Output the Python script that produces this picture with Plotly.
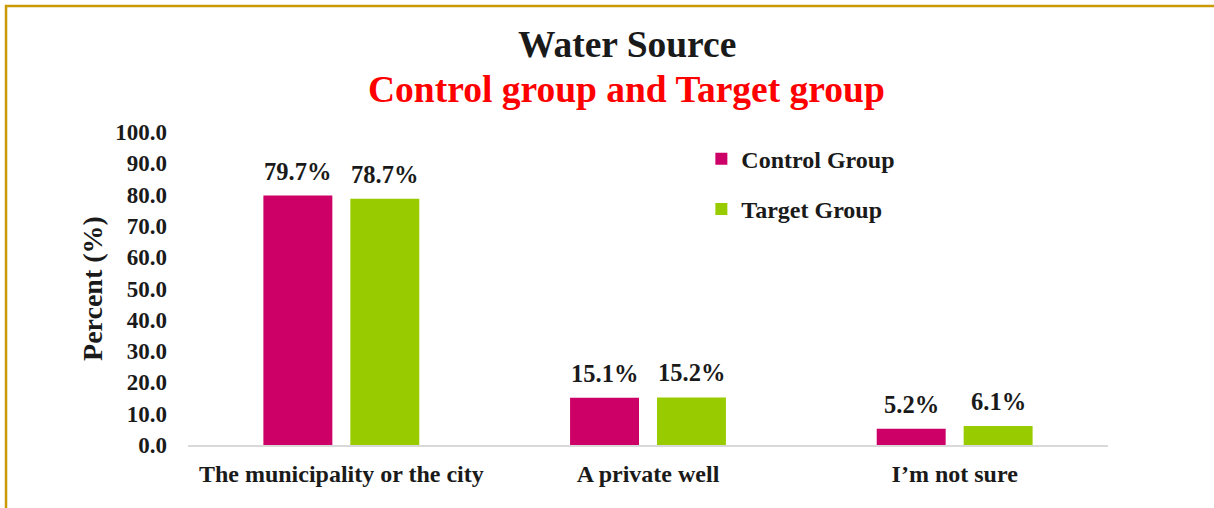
import plotly.graph_objects as go

categories = ["The municipality or the city", "A private well", "I’m not sure"]
control_values = [79.7, 15.1, 5.2]
target_values = [78.7, 15.2, 6.1]
series_names = ["Control Group", "Target Group"]
y_ticks = [0, 10, 20, 30, 40, 50, 60, 70, 80, 90, 100]

FONT = "Liberation Serif"
colors = ["#CC0066", "#99CC00"]
TXT = "#1a1a1a"

fig = go.Figure()
for name, vals, col in zip(series_names, [control_values, target_values], colors):
    fig.add_trace(go.Bar(
        x=categories, y=vals, name=name, legendgroup=name,
        marker=dict(color=col, line=dict(width=0)),
    ))

annotations = []
for vals, shift in zip([control_values, target_values], [-43.5, 43.5]):
    for cat, v in zip(categories, vals):
        annotations.append(dict(
            x=cat, y=v, xref="x", yref="y", text=f"{v:.1f}%", showarrow=False,
            xanchor="center", yanchor="bottom", xshift=shift, yshift=9,
            font=dict(family=FONT, size=24.5, color=TXT, weight="bold")))

annotations += [
    dict(text="Water Source", xref="paper", yref="paper", x=0.477, y=1.278,
         xanchor="center", yanchor="middle", showarrow=False,
         font=dict(family=FONT, size=37.5, color=TXT, weight="bold")),
    dict(text="Control group and Target group", xref="paper", yref="paper", x=0.477, y=1.137,
         xanchor="center", yanchor="middle", showarrow=False,
         font=dict(family=FONT, size=37.5, color="#FF0000", weight="bold")),
]

fig.update_layout(
    width=1214, height=508,
    margin=dict(l=188, r=106, t=132, b=63),
    paper_bgcolor="white", plot_bgcolor="white",
    barmode="group", bargap=0.433, bargroupgap=0.207,
    font=dict(family=FONT, color=TXT),
    showlegend=True,
    legend=dict(x=0.558, y=0.985, xanchor="left", yanchor="top",
                font=dict(family=FONT, size=24, color=TXT, weight="bold"),
                tracegroupgap=16, itemwidth=30, bgcolor="rgba(0,0,0,0)"),
    xaxis=dict(showgrid=False, showline=True, linecolor="#D9D9D9", linewidth=2,
               ticks="", ticklabelstandoff=6,
               tickfont=dict(family=FONT, size=24, color=TXT, weight="bold")),
    yaxis=dict(range=[0, 100], tickvals=y_ticks, tickformat=".1f", showgrid=False,
               showline=False, zeroline=False, ticks="", ticklabelstandoff=20,
               tickfont=dict(family=FONT, size=23, color=TXT, weight="bold"),
               title=dict(text="Percent (%)", standoff=4,
                          font=dict(family=FONT, size=28, color=TXT, weight="bold"))),
    annotations=annotations,
    shapes=[
        dict(type="rect", xref="paper", yref="paper", x0=-0.1978, x1=1.2, y0=-0.3, y1=1.4026,
             line=dict(color="#C99A06", width=2.5), fillcolor="rgba(0,0,0,0)", layer="below"),
    ],
)

fig.write_html("out.html", config={"displayModeBar": False},
               post_script="document.body.style.margin='0';document.body.style.overflow='hidden';")
